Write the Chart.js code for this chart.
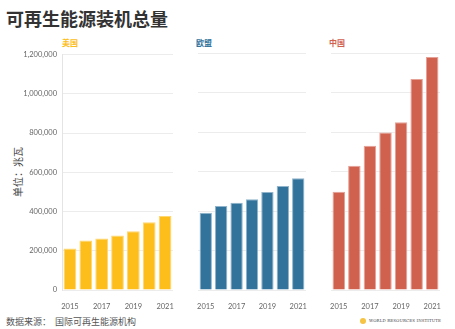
<!DOCTYPE html>
<html lang="zh">
<head>
  <meta charset="UTF-8">
  <title>可再生能源装机总量</title>
  <script src="https://cdn.jsdelivr.net/npm/chart.js"></script>
  <style>
    body { margin: 0; width: 455px; height: 329px; background: #fff; position: relative; overflow: hidden;
           font-family: "Noto Sans CJK SC", "Noto Sans", sans-serif; }
    .abs { position: absolute; }
    #title { left: 6px; top: 5px; font-size: 18px; font-weight: bold; color: #333; letter-spacing: 0; }
    .ptitle { font-size: 8px; font-weight: bold; top: 37px; }
    #ylab { left: 17px; top: 172px; font-size: 10px; color: #444; transform: translate(-50%, -50%) rotate(-90deg); white-space: nowrap; }
    #source { left: 6px; top: 315px; font-size: 9px; color: #555; }
    #logo { left: 360px; top: 318px; font-family: "DejaVu Serif", "Liberation Serif", serif; font-size: 4px; color: #444; letter-spacing: 0.1px; white-space: nowrap; }
    #logo span.dot { display: inline-block; width: 6px; height: 6px; border-radius: 50%; background: #f6c342; vertical-align: middle; margin-right: 3px; }
  </style>
</head>
<body>
  <div id="title" class="abs">可再生能源装机总量</div>
  <div class="abs ptitle" style="left:62px;color:#fdbd1a">美国</div>
  <div class="abs ptitle" style="left:196px;color:#32739c">欧盟</div>
  <div class="abs ptitle" style="left:329px;color:#d0614f">中国</div>
  <div id="ylab" class="abs">单位：兆瓦</div>
  <canvas id="c1" class="abs" style="left:20px;top:45px"></canvas>
  <canvas id="c2" class="abs" style="left:193px;top:45px"></canvas>
  <canvas id="c3" class="abs" style="left:326px;top:45px"></canvas>
  <div id="source" class="abs">数据来源：&nbsp;&nbsp;国际可再生能源机构</div>
  <div id="logo" class="abs"><span class="dot"></span>WORLD RESOURCES INSTITUTE</div>

  <script>
    const years = ['2015', '2016', '2017', '2018', '2019', '2020', '2021'];
    const usValues = [212000, 252000, 262000, 278000, 300000, 345000, 377000];
    const euValues = [391000, 425000, 442000, 459000, 496000, 527000, 566000];
    const cnValues = [498000, 629000, 730000, 797000, 849000, 1068000, 1180000];
    const yTicks = [0, 200000, 400000, 600000, 800000, 1000000, 1200000];

    function makeChart(id, w, values, color, border, showY) {
      const cv = document.getElementById(id);
      cv.width = w; cv.height = 265;
      cv.style.width = w + 'px'; cv.style.height = '265px';
      return new Chart(cv, {
        type: 'bar',
        data: {
          labels: years,
          datasets: [{
            data: values,
            backgroundColor: color,
            borderColor: border,
            borderWidth: 1,
            categoryPercentage: 1,
            barPercentage: 0.8
          }]
        },
        options: {
          responsive: false,
          animation: false,
          layout: { padding: { top: 8, right: 3, left: showY ? 0 : 3, bottom: 0 } },
          plugins: { legend: { display: false }, tooltip: { enabled: false } },
          scales: {
            x: {
              grid: { display: false },
              border: { display: false },
              ticks: {
                autoSkip: false, maxRotation: 0, padding: 4,
                color: '#666', font: { family: 'Lato', size: 7.5 },
                callback: (v, i) => (i % 2 === 0 ? years[i] : '')
              },
              afterFit: s => { s.height = 20; }
            },
            y: {
              min: 0, max: 1200000,
              afterBuildTicks: s => { s.ticks = yTicks.map(v => ({ value: v })); },
              grid: { color: '#ececec', drawTicks: false, lineWidth: 1 },
              border: { display: showY, color: '#e4e4e4' },
              ticks: {
                display: showY, padding: 5,
                color: '#666', font: { family: 'Lato', size: 7.5 },
                callback: v => v.toLocaleString('en-US')
              },
              afterFit: s => { s.width = showY ? 42 : 0; }
            }
          }
        }
      });
    }

    makeChart('c1', 158, usValues, '#fdbd1a', '#fed770', true);
    makeChart('c2', 118, euValues, '#32739c', '#8fb4cb', false);
    makeChart('c3', 119, cnValues, '#d0614f', '#e6a196', false);
  </script>
</body>
</html>
